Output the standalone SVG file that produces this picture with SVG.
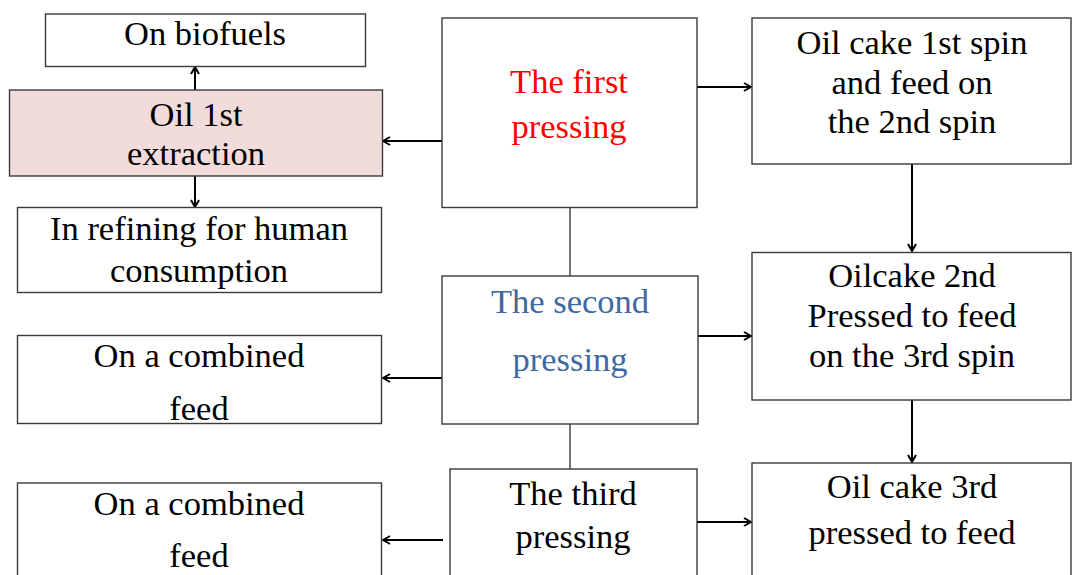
<svg xmlns="http://www.w3.org/2000/svg" width="1072" height="575" viewBox="0 0 1072 575">
<style>
.box{fill:#fff;stroke:#3a3a3a;stroke-width:1.4}
.pink{fill:#f2dcdb}
.c{stroke:#000;stroke-width:2;fill:none}
.ln{stroke:#3a3a3a;stroke-width:1.4;fill:none}
</style>
<defs>
<marker id="ah" viewBox="0 0 10 10" refX="9" refY="5" markerWidth="10" markerHeight="10" markerUnits="userSpaceOnUse" orient="auto">
<path d="M2,1 L9,5 L2,9" fill="none" stroke="#000" stroke-width="2"/>
</marker>
</defs>
<g id="connectors">
<line class="c" x1="195" y1="90" x2="195" y2="67" marker-end="url(#ah)"/>
<line class="c" x1="195" y1="176" x2="195" y2="207" marker-end="url(#ah)"/>
<line class="c" x1="442" y1="141" x2="383" y2="141" marker-end="url(#ah)"/>
<line class="c" x1="697" y1="87" x2="751" y2="87" marker-end="url(#ah)"/>
<line class="c" x1="912" y1="164" x2="912" y2="251" marker-end="url(#ah)"/>
<line class="c" x1="912" y1="400" x2="912" y2="462" marker-end="url(#ah)"/>
<line class="ln" x1="570" y1="207" x2="570" y2="276"/>
<line class="c" x1="698" y1="336" x2="751" y2="336" marker-end="url(#ah)"/>
<line class="c" x1="442" y1="378" x2="383" y2="378" marker-end="url(#ah)"/>
<line class="ln" x1="570" y1="424" x2="570" y2="469"/>
<line class="c" x1="697" y1="522" x2="751" y2="522" marker-end="url(#ah)"/>
<line class="c" x1="443" y1="540" x2="383" y2="540" marker-end="url(#ah)"/>
</g>
<g id="biofuels">
<rect class="box" x="45.5" y="14" width="320" height="52.5"/>
<text x="205" y="45" font-family="Times New Roman, Liberation Serif, serif" font-size="34.5" text-anchor="middle" fill="#000">On biofuels</text>
</g>
<g id="oil1st">
<rect class="box pink" x="9.5" y="90" width="373" height="86"/>
<text x="196" y="126" font-family="Times New Roman, Liberation Serif, serif" font-size="34.5" text-anchor="middle" fill="#000">Oil 1st</text>
<text x="196" y="165" font-family="Times New Roman, Liberation Serif, serif" font-size="34.5" text-anchor="middle" fill="#000">extraction</text>
</g>
<g id="refining">
<rect class="box" x="17.5" y="207.5" width="364" height="85"/>
<text x="199" y="240" font-family="Times New Roman, Liberation Serif, serif" font-size="34.5" text-anchor="middle" fill="#000">In refining for human</text>
<text x="199" y="282" font-family="Times New Roman, Liberation Serif, serif" font-size="34.5" text-anchor="middle" fill="#000">consumption</text>
</g>
<g id="first">
<rect class="box" x="442" y="18" width="255" height="189.5"/>
<text x="569" y="93" font-family="Times New Roman, Liberation Serif, serif" font-size="34.5" text-anchor="middle" fill="#ff0000">The first</text>
<text x="569" y="138" font-family="Times New Roman, Liberation Serif, serif" font-size="34.5" text-anchor="middle" fill="#ff0000">pressing</text>
</g>
<g id="cake1">
<rect class="box" x="752" y="18" width="319" height="146"/>
<text x="912" y="54" font-family="Times New Roman, Liberation Serif, serif" font-size="34.5" text-anchor="middle" fill="#000">Oil cake 1st spin</text>
<text x="912" y="94" font-family="Times New Roman, Liberation Serif, serif" font-size="34.5" text-anchor="middle" fill="#000">and feed on</text>
<text x="912" y="133" font-family="Times New Roman, Liberation Serif, serif" font-size="34.5" text-anchor="middle" fill="#000">the 2nd spin</text>
</g>
<g id="second">
<rect class="box" x="442" y="276" width="256" height="148"/>
<text x="570" y="313" font-family="Times New Roman, Liberation Serif, serif" font-size="34.5" text-anchor="middle" fill="#3d69a3">The second</text>
<text x="570" y="371" font-family="Times New Roman, Liberation Serif, serif" font-size="34.5" text-anchor="middle" fill="#3d69a3">pressing</text>
</g>
<g id="cake2">
<rect class="box" x="752" y="252.5" width="319" height="147.5"/>
<text x="912" y="287" font-family="Times New Roman, Liberation Serif, serif" font-size="34.5" text-anchor="middle" fill="#000">Oilcake 2nd</text>
<text x="912" y="327" font-family="Times New Roman, Liberation Serif, serif" font-size="34.5" text-anchor="middle" fill="#000">Pressed to feed</text>
<text x="912" y="367" font-family="Times New Roman, Liberation Serif, serif" font-size="34.5" text-anchor="middle" fill="#000">on the 3rd spin</text>
</g>
<g id="combined1">
<rect class="box" x="17.5" y="335.5" width="364" height="88"/>
<text x="199" y="367" font-family="Times New Roman, Liberation Serif, serif" font-size="34.5" text-anchor="middle" fill="#000">On a combined</text>
<text x="199" y="420" font-family="Times New Roman, Liberation Serif, serif" font-size="34.5" text-anchor="middle" fill="#000">feed</text>
</g>
<g id="third">
<rect class="box" x="450" y="469" width="247" height="110"/>
<text x="573" y="505" font-family="Times New Roman, Liberation Serif, serif" font-size="34.5" text-anchor="middle" fill="#000">The third</text>
<text x="573" y="548" font-family="Times New Roman, Liberation Serif, serif" font-size="34.5" text-anchor="middle" fill="#000">pressing</text>
</g>
<g id="cake3">
<rect class="box" x="752" y="463" width="319" height="116"/>
<text x="912" y="498" font-family="Times New Roman, Liberation Serif, serif" font-size="34.5" text-anchor="middle" fill="#000">Oil cake 3rd</text>
<text x="912" y="544" font-family="Times New Roman, Liberation Serif, serif" font-size="34.5" text-anchor="middle" fill="#000">pressed to feed</text>
</g>
<g id="combined2">
<rect class="box" x="17.5" y="483" width="364" height="96"/>
<text x="199" y="515" font-family="Times New Roman, Liberation Serif, serif" font-size="34.5" text-anchor="middle" fill="#000">On a combined</text>
<text x="199" y="567" font-family="Times New Roman, Liberation Serif, serif" font-size="34.5" text-anchor="middle" fill="#000">feed</text>
</g>
</svg>
